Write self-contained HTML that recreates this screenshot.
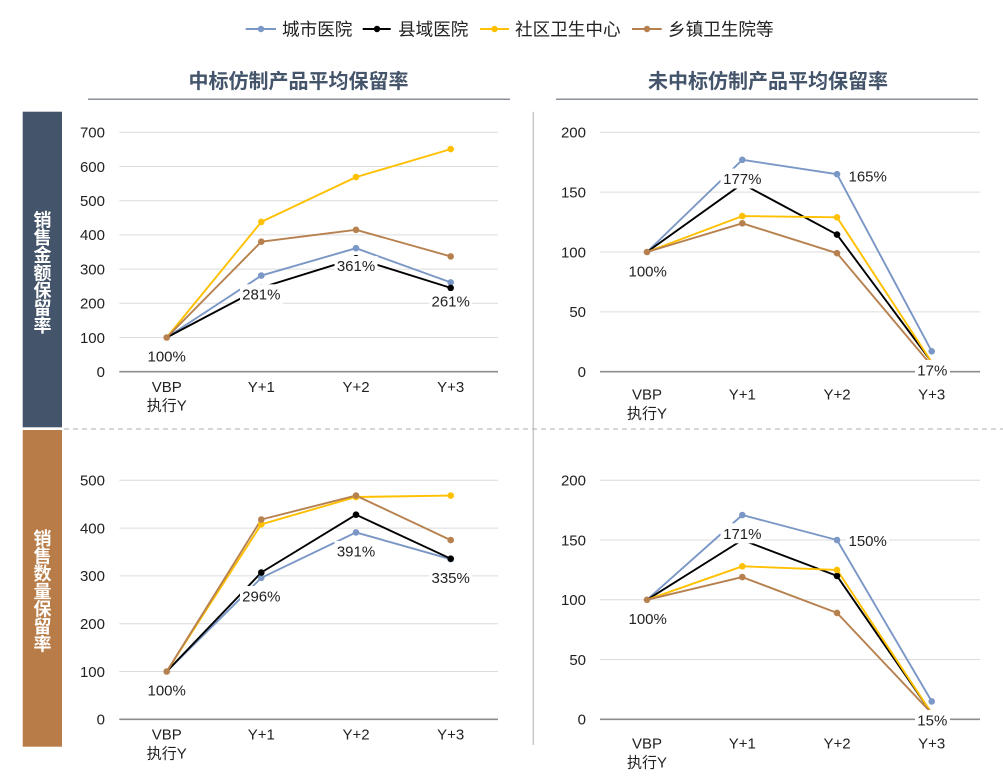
<!DOCTYPE html>
<html><head><meta charset="utf-8"><style>
html,body{margin:0;padding:0;background:#fff;}
svg{display:block;}
text{font-family:"Liberation Sans","Noto Sans CJK SC",sans-serif;}
</style></head><body>
<svg width="1003" height="778" viewBox="0 0 1003 778" xmlns="http://www.w3.org/2000/svg">
<!-- Legend -->
<g font-size="17.6" fill="#222">
 <line x1="245.7" y1="29" x2="276" y2="29" stroke="#7a97c6" stroke-width="2"/><circle cx="261" cy="29" r="3.2" fill="#7a97c6"/>
 <text x="282" y="35.5">城市医院</text>
 <line x1="362.7" y1="29" x2="390.7" y2="29" stroke="#000" stroke-width="2"/><circle cx="377" cy="29" r="3.2" fill="#000"/>
 <text x="398" y="35.5">县域医院</text>
 <line x1="480" y1="29" x2="509" y2="29" stroke="#ffc000" stroke-width="2"/><circle cx="494.5" cy="29" r="3.2" fill="#ffc000"/>
 <text x="515" y="35.5">社区卫生中心</text>
 <line x1="632" y1="29" x2="661.7" y2="29" stroke="#b7814f" stroke-width="2"/><circle cx="647" cy="29" r="3.2" fill="#b7814f"/>
 <text x="668" y="35.5">乡镇卫生院等</text>
</g>
<!-- Titles -->
<text x="298.5" y="88" font-size="20" font-weight="bold" fill="#44546a" text-anchor="middle">中标仿制产品平均保留率</text>
<text x="768" y="88" font-size="20" font-weight="bold" fill="#44546a" text-anchor="middle">未中标仿制产品平均保留率</text>
<line x1="88" y1="99.3" x2="510" y2="99.3" stroke="#8a8f99" stroke-width="1.5"/>
<line x1="556" y1="99.3" x2="978" y2="99.3" stroke="#8a8f99" stroke-width="1.5"/>
<!-- separators -->
<line x1="533.3" y1="111.7" x2="533.3" y2="745" stroke="#cacaca" stroke-width="1.5"/>
<line x1="64" y1="429" x2="1003" y2="429" stroke="#bdbdbd" stroke-width="1.2" stroke-dasharray="5,4"/>
<!-- side boxes -->
<rect x="22.7" y="111.7" width="39.3" height="315.6" fill="#44546a"/>
<rect x="22.7" y="430" width="39.3" height="316.7" fill="#b87c48"/>
<g font-size="18" font-weight="bold" fill="#fff" text-anchor="middle">
 <text x="42.5" y="226.5">销</text><text x="42.5" y="244.1">售</text><text x="42.5" y="261.7">金</text><text x="42.5" y="279.3">额</text><text x="42.5" y="296.9">保</text><text x="42.5" y="314.5">留</text><text x="42.5" y="332.1">率</text>
 <text x="42.5" y="545">销</text><text x="42.5" y="562.6">售</text><text x="42.5" y="580.2">数</text><text x="42.5" y="597.8">量</text><text x="42.5" y="615.4">保</text><text x="42.5" y="633">留</text><text x="42.5" y="650.6">率</text>
</g>
<!-- Gridlines -->
<g stroke="#dcdcdc" stroke-width="1">
 <line x1="119.3" x2="498" y1="337.5" y2="337.5"/><line x1="119.3" x2="498" y1="303.3" y2="303.3"/><line x1="119.3" x2="498" y1="269.1" y2="269.1"/><line x1="119.3" x2="498" y1="234.9" y2="234.9"/><line x1="119.3" x2="498" y1="200.7" y2="200.7"/><line x1="119.3" x2="498" y1="166.5" y2="166.5"/><line x1="119.3" x2="498" y1="132.3" y2="132.3"/>
 <line x1="600" x2="980" y1="311.85" y2="311.85"/><line x1="600" x2="980" y1="252" y2="252"/><line x1="600" x2="980" y1="192.15" y2="192.15"/><line x1="600" x2="980" y1="132.3" y2="132.3"/>
 <line x1="119.3" x2="498" y1="671.5" y2="671.5"/><line x1="119.3" x2="498" y1="623.7" y2="623.7"/><line x1="119.3" x2="498" y1="575.9" y2="575.9"/><line x1="119.3" x2="498" y1="528.1" y2="528.1"/><line x1="119.3" x2="498" y1="480.3" y2="480.3"/>
 <line x1="600" x2="980" y1="659.55" y2="659.55"/><line x1="600" x2="980" y1="599.8" y2="599.8"/><line x1="600" x2="980" y1="540.05" y2="540.05"/><line x1="600" x2="980" y1="480.3" y2="480.3"/>
</g>
<g stroke="#8c8c8c" stroke-width="1.6">
 <line x1="119.3" x2="498" y1="371.7" y2="371.7"/>
 <line x1="600" x2="980" y1="371.7" y2="371.7"/>
 <line x1="119.3" x2="498" y1="719.3" y2="719.3"/>
 <line x1="600" x2="980" y1="719.3" y2="719.3"/>
</g>
<!-- Tick labels -->
<g font-size="15" fill="#222" text-anchor="end">
 <text x="105" y="377">0</text><text x="105" y="342.8">100</text><text x="105" y="308.6">200</text><text x="105" y="274.4">300</text><text x="105" y="240.2">400</text><text x="105" y="206">500</text><text x="105" y="171.8">600</text><text x="105" y="137.6">700</text>
 <text x="586" y="377">0</text><text x="586" y="317.2">50</text><text x="586" y="257.3">100</text><text x="586" y="197.5">150</text><text x="586" y="137.6">200</text>
 <text x="105" y="724.6">0</text><text x="105" y="676.8">100</text><text x="105" y="629">200</text><text x="105" y="581.2">300</text><text x="105" y="533.4">400</text><text x="105" y="485.6">500</text>
 <text x="586" y="724.6">0</text><text x="586" y="664.9">50</text><text x="586" y="605.1">100</text><text x="586" y="545.4">150</text><text x="586" y="485.6">200</text>
</g>
<!-- Category labels -->
<g font-size="15" fill="#222" text-anchor="middle">
 <text x="166.7" y="392">VBP</text><text x="166.7" y="410.5">执行Y</text><text x="261.3" y="392">Y+1</text><text x="356" y="392">Y+2</text><text x="450.7" y="392">Y+3</text>
 <text x="647" y="399.5">VBP</text><text x="647" y="418.5">执行Y</text><text x="742.3" y="399.5">Y+1</text><text x="837" y="399.5">Y+2</text><text x="931.7" y="399.5">Y+3</text>
 <text x="166.7" y="739.5">VBP</text><text x="166.7" y="758.5">执行Y</text><text x="261.3" y="739.5">Y+1</text><text x="356" y="739.5">Y+2</text><text x="450.7" y="739.5">Y+3</text>
 <text x="647" y="748.5">VBP</text><text x="647" y="767.5">执行Y</text><text x="742.3" y="748.5">Y+1</text><text x="837" y="748.5">Y+2</text><text x="931.7" y="748.5">Y+3</text>
</g>
<!-- Series: Top-left -->
<g fill="none" stroke-width="1.9" stroke-linejoin="round">
 <polyline stroke="#7a97c6" points="166.7,337.5 261.3,275.6 356,248.2 450.7,282.4"/>
 <polyline stroke="#000" points="166.7,337.5 261.3,287.6 356,258.2 450.7,287.9"/>
 <polyline stroke="#ffc000" points="166.7,337.5 261.3,221.9 356,177.1 450.7,149.1"/>
 <polyline stroke="#b7814f" points="166.7,337.5 261.3,241.7 356,229.8 450.7,256.4"/>
 <!-- Top-right -->
 <polyline stroke="#7a97c6" points="647,252 742.3,159.8 837,174.2 931.7,351.3"/>
 <polyline stroke="#000" points="647,252 742.3,183.8 837,234.6 931.7,362.1"/>
 <polyline stroke="#ffc000" points="647,252 742.3,216.1 837,217.3 931.7,362.1"/>
 <polyline stroke="#b7814f" points="647,252 742.3,223.3 837,253.2 931.7,365.7"/>
 <!-- Bottom-left -->
 <polyline stroke="#7a97c6" points="166.7,671.5 261.3,577.8 356,532.4 450.7,559.2"/>
 <polyline stroke="#000" points="166.7,671.5 261.3,572.5 356,514.7 450.7,558.7"/>
 <polyline stroke="#ffc000" points="166.7,671.5 261.3,524.3 356,497 450.7,495.6"/>
 <polyline stroke="#b7814f" points="166.7,671.5 261.3,519.5 356,495.6 450.7,540.1"/>
 <!-- Bottom-right -->
 <polyline stroke="#7a97c6" points="647,599.8 742.3,515 837,540 931.7,701.4"/>
 <polyline stroke="#000" points="647,599.8 742.3,540 837,575.9 931.7,713.3"/>
 <polyline stroke="#ffc000" points="647,599.8 742.3,566.3 837,569.9 931.7,713.3"/>
 <polyline stroke="#b7814f" points="647,599.8 742.3,577.1 837,612.9 931.7,713.3"/>
</g>
<!-- Markers -->
<g>
 <g fill="#7a97c6"><circle cx="261.3" cy="275.6" r="3.3"/><circle cx="356" cy="248.2" r="3.3"/><circle cx="450.7" cy="282.4" r="3.3"/>
  <circle cx="742.3" cy="159.8" r="3.3"/><circle cx="837" cy="174.2" r="3.3"/><circle cx="931.7" cy="351.3" r="3.3"/>
  <circle cx="261.3" cy="577.8" r="3.3"/><circle cx="356" cy="532.4" r="3.3"/><circle cx="450.7" cy="559.2" r="3.3"/>
  <circle cx="742.3" cy="515" r="3.3"/><circle cx="837" cy="540" r="3.3"/><circle cx="931.7" cy="701.4" r="3.3"/></g>
 <g fill="#000"><circle cx="261.3" cy="287.6" r="3.3"/><circle cx="356" cy="258.2" r="3.3"/><circle cx="450.7" cy="287.9" r="3.3"/>
  <circle cx="837" cy="234.6" r="3.3"/>
  <circle cx="261.3" cy="572.5" r="3.3"/><circle cx="356" cy="514.7" r="3.3"/><circle cx="450.7" cy="558.7" r="3.3"/>
  <circle cx="837" cy="575.9" r="3.3"/></g>
 <g fill="#ffc000"><circle cx="261.3" cy="221.9" r="3.3"/><circle cx="356" cy="177.1" r="3.3"/><circle cx="450.7" cy="149.1" r="3.3"/>
  <circle cx="742.3" cy="216.1" r="3.3"/><circle cx="837" cy="217.3" r="3.3"/>
  <circle cx="261.3" cy="524.3" r="3.3"/><circle cx="356" cy="497" r="3.3"/><circle cx="450.7" cy="495.6" r="3.3"/>
  <circle cx="742.3" cy="566.3" r="3.3"/><circle cx="837" cy="569.9" r="3.3"/></g>
 <g fill="#b7814f"><circle cx="166.7" cy="337.5" r="3.3"/><circle cx="261.3" cy="241.7" r="3.3"/><circle cx="356" cy="229.8" r="3.3"/><circle cx="450.7" cy="256.4" r="3.3"/>
  <circle cx="647" cy="252" r="3.3"/><circle cx="742.3" cy="223.3" r="3.3"/><circle cx="837" cy="253.2" r="3.3"/>
  <circle cx="166.7" cy="671.5" r="3.3"/><circle cx="261.3" cy="519.5" r="3.3"/><circle cx="356" cy="495.6" r="3.3"/><circle cx="450.7" cy="540.1" r="3.3"/>
  <circle cx="647" cy="599.8" r="3.3"/><circle cx="742.3" cy="577.1" r="3.3"/><circle cx="837" cy="612.9" r="3.3"/></g>
</g>
<!-- Data labels -->
<g fill="#fff">
 <rect x="145" y="346" width="43" height="20"/><rect x="240" y="284.3" width="43" height="20"/><rect x="334.5" y="256" width="43" height="20"/><rect x="429" y="291" width="43" height="20"/>
 <rect x="626" y="261" width="43" height="20"/><rect x="720.5" y="168.5" width="43" height="20"/><rect x="846" y="166" width="43" height="20"/><rect x="915" y="360" width="35" height="20"/>
 <rect x="145" y="680" width="43" height="20"/><rect x="240" y="586" width="43" height="20"/><rect x="334.5" y="541" width="43" height="20"/><rect x="429" y="567.3" width="43" height="20"/>
 <rect x="626" y="608.7" width="43" height="20"/><rect x="720.5" y="523.3" width="43" height="20"/><rect x="846" y="530.7" width="43" height="20"/><rect x="915" y="710" width="35" height="20"/>
</g>
<g font-size="15" fill="#222" text-anchor="middle">
 <text x="166.7" y="361.5">100%</text><text x="261.3" y="299.5">281%</text><text x="356" y="271.2">361%</text><text x="450.7" y="306.5">261%</text>
 <text x="647.7" y="276.5">100%</text><text x="742.3" y="183.8">177%</text><text x="867.7" y="181.5">165%</text><text x="932.3" y="375.5">17%</text>
 <text x="166.7" y="695.5">100%</text><text x="261.3" y="601.5">296%</text><text x="356" y="556.5">391%</text><text x="450.7" y="582.8">335%</text>
 <text x="647.7" y="624.2">100%</text><text x="742.3" y="538.8">171%</text><text x="867.7" y="546.2">150%</text><text x="932.3" y="725.5">15%</text>
</g>
</svg>
</body></html>
